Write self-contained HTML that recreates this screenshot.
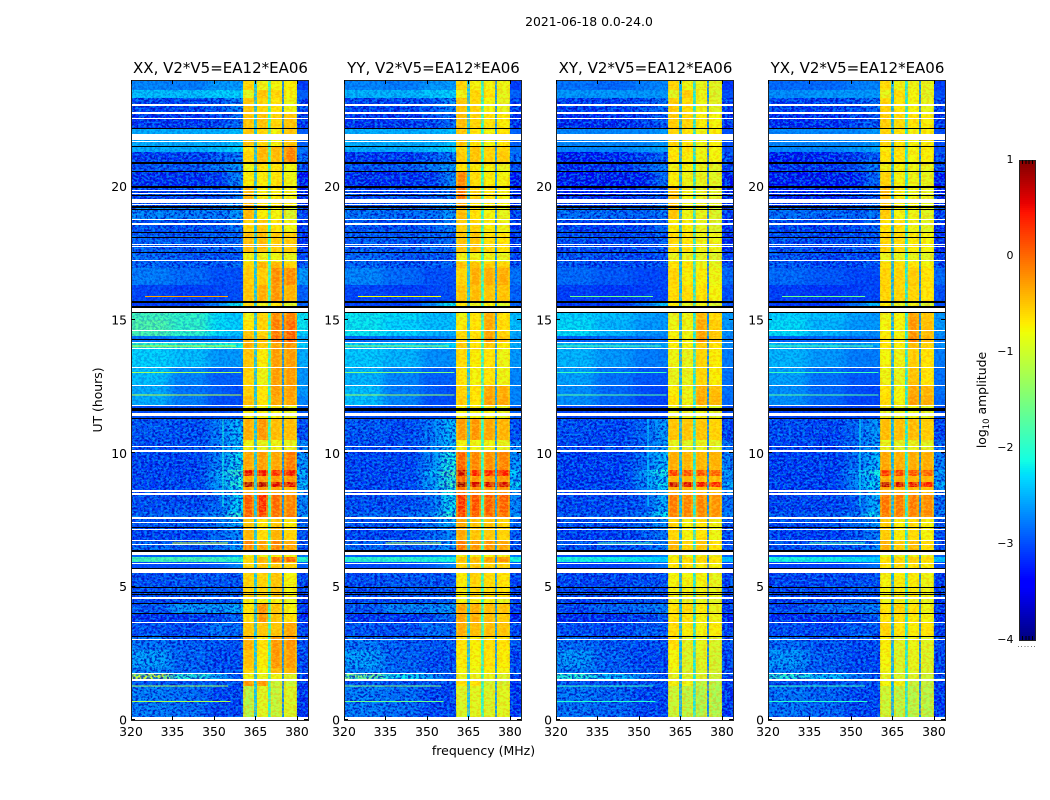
<!DOCTYPE html>
<html>
<head>
<meta charset="utf-8">
<title>2021-06-18 0.0-24.0</title>
<style>
html,body{margin:0;padding:0;background:#fff;}
svg{display:block;}
text{font-family:"DejaVu Sans","Liberation Sans",sans-serif;fill:#000;}
</style>
</head>
<body>
<svg id="figure" width="1050" height="800" viewBox="0 0 1050 800" xmlns="http://www.w3.org/2000/svg">
<defs>
<filter id="lowBlur" x="-0.2" y="0" width="1.4" height="1" color-interpolation-filters="sRGB">
<feGaussianBlur stdDeviation="5 0"/>
</filter>
<filter id="speckleDark" x="0" y="0" width="1" height="1" color-interpolation-filters="sRGB">
<feTurbulence type="fractalNoise" baseFrequency="0.36 0.5" numOctaves="2" seed="3"/>
<feColorMatrix type="matrix" values="0 0 0 0 0  0 0 0 0 0.05  0 0 0 0 0.72  10 0 0 0 -4.7"/>
</filter>
<filter id="speckleLight" x="0" y="0" width="1" height="1" color-interpolation-filters="sRGB">
<feTurbulence type="fractalNoise" baseFrequency="0.36 0.5" numOctaves="2" seed="11"/>
<feColorMatrix type="matrix" values="0 0 0 0 0  0 0 0 0 0.72  0 0 0 0 1  10 0 0 0 -4.9"/>
</filter>
<filter id="speckleBand" x="0" y="0" width="1" height="1" color-interpolation-filters="sRGB">
<feTurbulence type="fractalNoise" baseFrequency="0.3 0.45" numOctaves="2" seed="7"/>
<feColorMatrix type="matrix" values="0 0 0 0 1  0 0 0 0 0.92  0 0 0 0 0.2  10 0 0 0 -4.8"/>
</filter>
<filter id="speckleOrange" x="0" y="0" width="1" height="1" color-interpolation-filters="sRGB">
<feTurbulence type="fractalNoise" baseFrequency="0.3 0.45" numOctaves="2" seed="19"/>
<feColorMatrix type="matrix" values="0 0 0 0 1  0 0 0 0 0.5  0 0 0 0 0  10 0 0 0 -4.9"/>
</filter>
</defs>
<text x="589" y="26" text-anchor="middle" font-size="12.4">2021-06-18 0.0-24.0</text>
<g id="panels"></g>
<text x="483.5" y="755" text-anchor="middle" font-size="12.5">frequency (MHz)</text>
<text transform="translate(102,400) rotate(-90)" text-anchor="middle" font-size="12.4">UT (hours)</text>
<g id="colorbar"></g>
<text transform="translate(986,400) rotate(-90)" text-anchor="middle" font-size="12.4">log<tspan dy="3" font-size="8.5">10</tspan><tspan dy="-3"> amplitude</tspan></text>
</svg>
<script>
// Axis ticks
const freqTicks = [320, 335, 350, 365, 380];
const hourTicks = [0, 5, 10, 15, 20];
const colorTicks = [1, 0, -1, -2, -3, -4];
const panelNames = ['XX', 'YY', 'XY', 'YX'];
const panelTitles = ['XX, V2*V5=EA12*EA06', 'YY, V2*V5=EA12*EA06', 'XY, V2*V5=EA12*EA06', 'YX, V2*V5=EA12*EA06'];

// Time segment edges (UT hours), top to bottom
const rowEdges = [24.00,23.62,23.32,22.80,22.20,21.52,21.30,20.92,20.59,20.02,19.54,19.24,18.79,18.30,17.55,17.18,16.95,16.31,15.71,15.49,15.00,14.62,14.40,14.18,13.91,13.24,12.56,12.15,11.81,11.32,10.50,10.09,9.38,9.15,8.92,8.74,8.44,7.80,7.61,7.24,6.75,6.34,6.11,5.92,5.70,4.61,4.39,4.01,3.67,3.15,2.62,1.95,1.76,1.54,1.27,0.11];
// Frequency channel edges (MHz): 4 low-band blocks, 4 sub-bands with 3 gaps, upper edge block
const freqEdges = [320,334,348,355,360.5,364.5,365.5,369.5,370.5,374.5,375.5,380,384];
// Sub-band spans (MHz)
const subBands = [[360.5,364.5],[365.5,369.5],[370.5,374.5],[375.5,380]];

// log10 amplitude per segment: low1, low2, low3, low4, sub1, sub2, sub3, sub4, upper
const levelsXX = [
[-2.7,-2.75,-2.6,-2.6,-.6,-.85,-.8,-.75,-3.1],
[-2.4,-2.4,-2.3,-2.3,-.95,-.5,-.6,-.8,-2.9],
[-3.1,-3.1,-3,-2.7,-.5,-.6,-.7,-.85,-3.1],
[-3.2,-3.2,-3.1,-2.9,-.5,-.5,-.6,-.5,-3.2],
[-2.5,-2.5,-2.5,-2.4,-.5,-.6,-.8,-.5,-2.9],
[-2.5,-2.5,-2.4,-2.3,-.7,-.4,-.4,-.1,-2.8],
[-3.15,-3.15,-3,-2.8,-.6,-.4,-.45,-.1,-2.9],
[-3,-3,-2.8,-2.6,-.85,-.7,-.7,-.85,-3],
[-3.25,-3.25,-3.2,-2.7,-.75,-.75,-.7,-.85,-3.4],
[-3.1,-3.1,-3,-2.8,-.4,-.75,-.75,-.8,-3.3],
[-3,-3,-2.8,-2.6,-.4,-.7,-.7,-.75,-3.2],
[-2.7,-2.75,-2.8,-2.6,-.4,-.75,-.8,-1,-3.1],
[-3,-3.05,-3,-2.8,-.6,-.5,-.7,-.85,-3.2],
[-2.95,-3,-2.95,-2.9,-.45,-.45,-.55,-.55,-3.2],
[-2.9,-3,-3,-3,-.85,-.85,-.85,-.9,-3.1],
[-2.9,-3,-3,-2.9,-.6,-.4,-.4,-.6,-3],
[-2.75,-2.85,-3,-3,-.55,-.55,-.15,-.15,-2.6],
[-3.05,-3.1,-3.05,-3,-.5,-.35,-.2,-.4,-2.9],
[-3.1,-3.1,-2.7,-2.2,-.6,-.9,-.7,-1,-2.9],
[-1.85,-1.95,-2.25,-2.35,-.85,-.6,-.15,-.1,-2.2],
[-1.75,-1.95,-2.25,-2.3,-.7,-.6,-.05,.05,-2.2],
[-1.8,-1.95,-2.25,-2.4,-.5,-.6,-.05,.1,-2.3],
[-2.8,-2.7,-2.7,-2.6,-.4,-.5,.1,.15,-2.5],
[-2,-2.05,-2.1,-2.1,-.35,-.55,-.3,-.2,-2.3],
[-2.3,-2.4,-2.6,-2.6,-.5,-.75,-.25,-.25,-2.5],
[-2.4,-2.7,-2.9,-2.9,-.6,-.85,-.25,-.25,-2.6],
[-2.5,-2.8,-2.9,-3,-.55,-.7,-.25,-.25,-2.6],
[-2.5,-2.75,-3,-3,-.45,-.7,-.3,-.3,-2.7],
[-3,-3,-3,-3,-.8,-.8,-.8,-.9,-2.9],
[-3,-3.05,-2.8,-2.4,-.35,-.2,-.45,-.45,-3.05],
[-3.05,-3.05,-2.8,-2.4,-.85,-.9,-.85,-.9,-2.7],
[-3.1,-3.1,-2.75,-2.2,-.3,-.25,-.3,-.05,-2.6],
[-3.1,-3.1,-2.5,-1.9,.55,.5,.4,.5,-2.4],
[-3.1,-3.1,-2.6,-2.1,-.35,-.25,-.25,-.2,-2.6],
[-3.1,-3.05,-2.6,-2,.85,.8,.6,.6,-2.3],
[-3.1,-3.1,-2.7,-2.2,-.3,-.2,-.3,-.4,-2.5],
[-3.05,-3.05,-2.9,-2.25,.15,.4,.05,-.1,-2.7],
[-2.9,-2.9,-2.7,-2,.1,.2,0,-.05,-2.6],
[-3,-3,-2.8,-2.5,-.5,-.7,-.5,-.75,-2.9],
[-3.1,-3.1,-2.9,-2.7,-.4,-.65,-.4,-.6,-3],
[-2.9,-3,-2.9,-2.6,-.1,-.3,-.1,-.3,-3],
[-2.9,-2.9,-2.8,-2.6,-.85,-.85,-.8,-.85,-2.8],
[-1.85,-1.85,-1.9,-2,-.6,-.35,0,.05,-2],
[-3,-3,-2.9,-2.7,-.6,-.5,-.5,-.6,-2.9],
[-3.05,-3,-3,-3,-.6,-.6,-.5,-.8,-3.1],
[-3.1,-3.1,-3,-2.9,-.8,-.8,-.8,-.9,-3.2],
[-3,-2.6,-2.6,-2.5,-.7,-.15,-.5,-.8,-3.2],
[-3.2,-3.2,-3.1,-2.9,-.7,-.2,-.5,-.7,-3.3],
[-3,-3.05,-2.8,-2.9,-.5,-.5,-.5,-.3,-3.1],
[-2.8,-2.95,-3,-3,-.35,-.7,-.2,-.2,-3],
[-2.55,-2.9,-3.05,-3.05,-.45,-.75,-.2,-.25,-3.1],
[-2.7,-2.9,-3,-3,-.6,-.8,-.4,-.4,-3.1],
[-1,-2,-2.5,-3,-.85,-.9,-.85,-1,-3.1],
[-3,-3,-3,-3,-.2,-.2,-1.1,-1.1,-3.2],
[-2.75,-2.85,-3.1,-3.1,-1.25,-.95,-1.15,-1,-3.2]
];
const levelsYY = [
[-2.7,-2.75,-2.6,-2.6,-.6,-.8,-.8,-.85,-3.1],
[-2.45,-2.45,-2.35,-2.3,-.85,-.6,-.7,-.9,-2.9],
[-3.1,-3.1,-3,-2.7,-.5,-.6,-.8,-.9,-3.1],
[-3.2,-3.2,-3.1,-2.9,-.45,-.6,-.7,-.75,-3.2],
[-2.5,-2.5,-2.5,-2.4,-.5,-.7,-.8,-.7,-2.9],
[-2.5,-2.5,-2.4,-2.3,-.6,-.5,-.6,-.6,-2.8],
[-3.2,-3.2,-3,-2.8,-.55,-.5,-.6,-.55,-2.9],
[-3.05,-3,-2.8,-2.6,-.7,-.75,-.8,-.9,-3],
[-3.25,-3.25,-3.2,-2.7,-.1,-.65,-.75,-.8,-3.4],
[-3.1,-3.1,-3,-2.8,0,-.6,-.7,-.8,-3.3],
[-3,-3,-2.8,-2.6,-.3,-.7,-.75,-.8,-3.2],
[-2.8,-2.85,-2.85,-2.6,-.45,-.7,-.8,-.9,-3.1],
[-3,-3.05,-3,-2.8,-.55,-.6,-.75,-.85,-3.2],
[-2.95,-3,-2.95,-2.9,-.5,-.5,-.65,-.7,-3.2],
[-2.9,-3,-3,-3,-.85,-.85,-.85,-.9,-3.1],
[-2.9,-3,-3,-2.9,-.5,-.5,-.55,-.6,-3],
[-2.7,-2.85,-3,-3,-.6,-.35,-.35,-.35,-2.8],
[-3.05,-3.1,-3.05,-3,-.5,-.45,-.5,-.5,-2.9],
[-3.1,-3.1,-2.7,-2.2,-.7,-.9,-.8,-1,-2.9],
[-2.2,-2.25,-2.4,-2.4,-.85,-.7,-.35,-.7,-2.4],
[-2.2,-2.3,-2.4,-2.4,-.75,-.7,-.3,-.65,-2.4],
[-2.2,-2.3,-2.45,-2.5,-.65,-.7,-.3,-.6,-2.5],
[-2.85,-2.8,-2.8,-2.7,-.6,-.65,-.2,-.5,-2.6],
[-2.3,-2.3,-2.35,-2.3,-.55,-.7,-.55,-.75,-2.5],
[-2.35,-2.45,-2.65,-2.65,-.65,-.75,-.7,-.85,-2.6],
[-2.45,-2.7,-2.9,-2.9,-.7,-.8,-.7,-.85,-2.7],
[-2.4,-2.75,-2.9,-3,-.6,-.7,-.3,-.35,-2.7],
[-2.4,-2.7,-3,-3,-.55,-.7,-.25,-.3,-2.7],
[-3,-3,-3,-3,-.8,-.8,-.8,-.9,-2.9],
[-3,-3.05,-2.8,-2.4,-.25,-.2,-.3,-.4,-3.05],
[-3.05,-3.05,-2.8,-2.4,-.8,-.85,-.85,-.9,-2.7],
[-3.1,-3.1,-2.7,-2.1,.1,-.1,-.15,-.1,-2.6],
[-3.1,-3.1,-2.4,-1.8,.7,.45,.45,.45,-2.3],
[-3.1,-3.1,-2.6,-2,.1,-.2,-.2,-.2,-2.5],
[-3.1,-3.05,-2.5,-1.9,.9,.65,.65,.65,-2.2],
[-3.1,-3.1,-2.7,-2.1,0,-.15,-.2,-.2,-2.5],
[-3.05,-3.05,-2.9,-2.2,.4,.2,.15,.1,-2.7],
[-2.9,-2.9,-2.7,-2,.2,.1,.05,0,-2.6],
[-3,-3,-2.8,-2.5,-.3,-.5,-.5,-.6,-2.9],
[-3.1,-3.1,-2.9,-2.7,-.3,-.5,-.5,-.6,-3],
[-2.9,-3,-2.9,-2.6,-.05,-.2,-.2,-.3,-3],
[-2.9,-2.9,-2.8,-2.6,-.85,-.85,-.8,-.85,-2.8],
[-2,-2,-2.05,-2.1,-.5,-.45,-.3,-.2,-2.1],
[-3,-3,-2.9,-2.7,-.6,-.5,-.6,-.6,-2.9],
[-3.05,-3,-3,-3,-.75,-.6,-.65,-.7,-3.1],
[-3.1,-3.1,-3,-2.9,-.8,-.8,-.8,-.9,-3.2],
[-3,-2.7,-2.7,-2.6,-.3,-.35,-.45,-.5,-3.2],
[-3.2,-3.2,-3.1,-2.9,-.3,-.35,-.45,-.55,-3.3],
[-3,-3.05,-2.85,-2.9,-.35,-.45,-.45,-.5,-3.1],
[-2.8,-2.95,-3,-3,-.7,-.75,-.65,-.7,-3],
[-2.55,-2.9,-3.05,-3.05,-.75,-.8,-.7,-.75,-3.1],
[-2.7,-2.9,-3,-3,-.8,-.85,-.75,-.8,-3.1],
[-1.5,-2.2,-2.6,-3,-.9,-.9,-.9,-1,-3.1],
[-3,-3,-3,-3,-.7,-.7,-1.05,-1.05,-3.2],
[-2.75,-2.85,-3.1,-3.1,-1,-.95,-1,-.95,-3.2]
];
const levelsXY = [
[-2.8,-2.85,-2.75,-2.7,-.6,-.85,-.9,-.95,-3.15],
[-2.6,-2.6,-2.6,-2.6,-.95,-.55,-.85,-1,-3],
[-3.15,-3.15,-3.05,-2.85,-.55,-.65,-.85,-.95,-3.15],
[-3.25,-3.25,-3.15,-3,-.55,-.6,-.75,-.8,-3.25],
[-2.7,-2.7,-2.7,-2.6,-.6,-.7,-.85,-.75,-3],
[-2.7,-2.7,-2.6,-2.55,-.75,-.7,-.85,-.8,-3],
[-3.35,-3.3,-3.15,-2.95,-.7,-.75,-.85,-.8,-3.05],
[-3.25,-3.2,-3,-2.8,-.85,-.8,-.9,-.95,-3.1],
[-3.4,-3.4,-3.35,-2.9,-.75,-.85,-.9,-.95,-3.4],
[-3.3,-3.3,-3.2,-3,-.45,-.8,-.9,-.95,-3.3],
[-3.15,-3.15,-3,-2.8,-.5,-.8,-.85,-.95,-3.25],
[-2.85,-2.9,-2.95,-2.8,-.5,-.85,-.9,-1,-3.15],
[-3.1,-3.15,-3.1,-2.95,-.75,-.75,-.9,-1,-3.25],
[-3.05,-3.1,-3.05,-3,-.65,-.7,-.85,-.85,-3.25],
[-3,-3.1,-3.1,-3.05,-.9,-.9,-.95,-1,-3.15],
[-3,-3.1,-3.1,-3,-.7,-.7,-.85,-.9,-3.1],
[-2.85,-2.95,-3.05,-3.05,-.6,-.75,-.75,-.85,-2.85],
[-3.1,-3.15,-3.1,-3.05,-.65,-.65,-.7,-.8,-3],
[-3.15,-3.15,-2.8,-2.4,-.75,-.95,-.85,-1.05,-3],
[-2.3,-2.4,-2.55,-2.6,-.9,-.85,-.4,-.65,-2.6],
[-2.25,-2.45,-2.6,-2.6,-.85,-.85,-.3,-.55,-2.6],
[-2.25,-2.45,-2.6,-2.65,-.8,-.85,-.3,-.55,-2.65],
[-2.9,-2.85,-2.85,-2.8,-.75,-.8,-.2,-.5,-2.75],
[-2.4,-2.45,-2.55,-2.55,-.75,-.8,-.55,-.7,-2.65],
[-2.45,-2.6,-2.75,-2.75,-.85,-.9,-.6,-.75,-2.75],
[-2.55,-2.8,-2.95,-2.95,-.9,-.9,-.6,-.75,-2.8],
[-2.65,-2.85,-3,-3.05,-.75,-.85,-.35,-.45,-2.8],
[-2.65,-2.85,-3.05,-3.05,-.7,-.85,-.3,-.4,-2.85],
[-3.05,-3.05,-3.05,-3.05,-.9,-.9,-.85,-.95,-3],
[-3.05,-3.1,-2.9,-2.6,-.5,-.5,-.5,-.6,-3.1],
[-3.1,-3.1,-2.9,-2.6,-.9,-.95,-.9,-.95,-2.85],
[-3.15,-3.15,-2.85,-2.4,-.35,-.4,-.4,-.4,-2.75],
[-3.15,-3.15,-2.6,-2.1,.3,.2,.2,.1,-2.55],
[-3.15,-3.15,-2.7,-2.3,-.4,-.4,-.45,-.45,-2.7],
[-3.15,-3.1,-2.7,-2.2,.7,.6,.5,.4,-2.45],
[-3.15,-3.15,-2.8,-2.35,-.35,-.4,-.45,-.5,-2.65],
[-3.1,-3.1,-3,-2.45,-.05,-.1,-.1,-.2,-2.85],
[-3,-3,-2.8,-2.2,-.1,-.1,-.15,-.2,-2.75],
[-3.05,-3.05,-2.9,-2.65,-.6,-.8,-.7,-.85,-3],
[-3.15,-3.15,-3,-2.8,-.6,-.8,-.7,-.85,-3.05],
[-3,-3.05,-3,-2.75,-.4,-.6,-.5,-.7,-3.05],
[-3,-3,-2.9,-2.75,-.9,-.9,-.85,-.9,-2.9],
[-2.1,-2.15,-2.2,-2.3,-.75,-.65,-.6,-.7,-2.4],
[-3.05,-3.05,-2.95,-2.8,-.7,-.7,-.75,-.8,-3],
[-3.1,-3.1,-3.05,-3.05,-.8,-.8,-.8,-.9,-3.15],
[-3.15,-3.15,-3.05,-3,-.85,-.9,-.9,-.95,-3.2],
[-3.1,-2.9,-2.85,-2.75,-.7,-.65,-.75,-.9,-3.2],
[-3.25,-3.25,-3.15,-3,-.7,-.7,-.8,-.85,-3.3],
[-3.05,-3.1,-2.95,-3,-.65,-.75,-.8,-.75,-3.15],
[-2.85,-3,-3.05,-3.05,-.7,-.95,-.9,-1,-3.05],
[-2.6,-2.95,-3.1,-3.1,-.8,-1,-.95,-1.05,-3.1],
[-2.75,-2.95,-3.05,-3.05,-.85,-1,-1,-1.05,-3.1],
[-2,-2.4,-2.75,-3.05,-.95,-1,-1,-1.1,-3.1],
[-3.05,-3.05,-3.05,-3.05,-.8,-.85,-1.2,-1.25,-3.2],
[-2.8,-2.9,-3.1,-3.1,-1.1,-1.2,-1.3,-1.3,-3.2]
];
const levelsYX = [
[-2.85,-2.85,-2.75,-2.7,-.65,-.85,-.85,-.9,-3.1],
[-2.65,-2.6,-2.6,-2.6,-.9,-.65,-.8,-.95,-3],
[-3.15,-3.15,-3.05,-2.85,-.6,-.7,-.8,-.9,-3.1],
[-3.25,-3.25,-3.15,-3,-.55,-.65,-.7,-.75,-3.2],
[-2.7,-2.7,-2.7,-2.6,-.6,-.7,-.8,-.75,-3],
[-2.7,-2.7,-2.6,-2.55,-.75,-.65,-.8,-.75,-3],
[-3.35,-3.3,-3.15,-2.95,-.7,-.7,-.8,-.75,-3.05],
[-3.25,-3.2,-3,-2.8,-.85,-.8,-.85,-.9,-3.1],
[-3.4,-3.4,-3.35,-2.9,-.6,-.8,-.85,-.9,-3.4],
[-3.3,-3.3,-3.2,-3,-.45,-.75,-.85,-.9,-3.3],
[-3.15,-3.15,-3,-2.8,-.5,-.75,-.8,-.9,-3.25],
[-2.85,-2.9,-2.95,-2.8,-.55,-.8,-.85,-.95,-3.15],
[-3.1,-3.15,-3.1,-2.95,-.7,-.7,-.85,-.95,-3.25],
[-3.05,-3.1,-3.05,-3,-.6,-.65,-.75,-.8,-3.25],
[-3,-3.1,-3.1,-3.05,-.9,-.9,-.9,-.95,-3.15],
[-3,-3.1,-3.1,-3,-.65,-.65,-.7,-.8,-3.1],
[-2.85,-2.95,-3.05,-3.05,-.6,-.6,-.55,-.7,-2.85],
[-3.1,-3.15,-3.1,-3.05,-.6,-.6,-.6,-.7,-3],
[-3.15,-3.15,-2.8,-2.4,-.75,-.95,-.85,-1.05,-3],
[-2.3,-2.4,-2.55,-2.6,-.85,-.8,-.25,-.5,-2.6],
[-2.25,-2.45,-2.6,-2.6,-.8,-.8,-.2,-.45,-2.6],
[-2.25,-2.45,-2.6,-2.65,-.75,-.8,-.2,-.45,-2.65],
[-2.9,-2.85,-2.85,-2.8,-.7,-.75,-.1,-.4,-2.75],
[-2.4,-2.45,-2.55,-2.55,-.7,-.75,-.45,-.6,-2.65],
[-2.45,-2.6,-2.75,-2.75,-.8,-.85,-.55,-.7,-2.75],
[-2.55,-2.8,-2.95,-2.95,-.85,-.9,-.5,-.7,-2.8],
[-2.65,-2.85,-3,-3.05,-.7,-.8,-.3,-.4,-2.8],
[-2.65,-2.85,-3.05,-3.05,-.65,-.8,-.25,-.35,-2.85],
[-3.05,-3.05,-3.05,-3.05,-.9,-.9,-.85,-.95,-3],
[-3.05,-3.1,-2.9,-2.6,-.45,-.45,-.45,-.55,-3.1],
[-3.1,-3.1,-2.9,-2.6,-.9,-.95,-.9,-.95,-2.85],
[-3.15,-3.15,-2.85,-2.4,-.3,-.35,-.35,-.35,-2.75],
[-3.15,-3.15,-2.6,-2.1,.35,.25,.2,.1,-2.55],
[-3.15,-3.15,-2.7,-2.3,-.35,-.35,-.4,-.4,-2.7],
[-3.15,-3.1,-2.7,-2.2,.75,.65,.55,.45,-2.45],
[-3.15,-3.15,-2.8,-2.35,-.3,-.35,-.4,-.45,-2.65],
[-3.1,-3.1,-3,-2.45,0,-.05,-.05,-.15,-2.85],
[-3,-3,-2.8,-2.2,-.05,-.05,-.1,-.15,-2.75],
[-3.05,-3.05,-2.9,-2.65,-.55,-.75,-.65,-.8,-3],
[-3.15,-3.15,-3,-2.8,-.55,-.75,-.65,-.8,-3.05],
[-3,-3.05,-3,-2.75,-.35,-.55,-.45,-.65,-3.05],
[-3,-3,-2.9,-2.75,-.9,-.9,-.85,-.9,-2.9],
[-2.1,-2.15,-2.2,-2.3,-.7,-.6,-.55,-.65,-2.4],
[-3.05,-3.05,-2.95,-2.8,-.7,-.65,-.7,-.75,-3],
[-3.1,-3.1,-3.05,-3.05,-.8,-.75,-.75,-.85,-3.15],
[-3.15,-3.15,-3.05,-3,-.85,-.85,-.85,-.9,-3.2],
[-3.1,-2.9,-2.85,-2.75,-.7,-.6,-.7,-.85,-3.2],
[-3.25,-3.25,-3.15,-3,-.7,-.65,-.75,-.8,-3.3],
[-3.05,-3.1,-2.95,-3,-.6,-.7,-.75,-.7,-3.15],
[-2.85,-3,-3.05,-3.05,-.75,-.95,-.85,-.95,-3.05],
[-2.6,-2.95,-3.1,-3.1,-.8,-1,-.9,-1,-3.1],
[-2.75,-2.95,-3.05,-3.05,-.85,-1,-.95,-1,-3.1],
[-2,-2.4,-2.75,-3.05,-.95,-1,-1,-1.1,-3.1],
[-3.05,-3.05,-3.05,-3.05,-.8,-.85,-1.15,-1.2,-3.2],
[-2.8,-2.9,-3.1,-3.1,-1.1,-1.2,-1.25,-1.25,-3.2]
];
// Level of the three gaps between sub-bands, per panel
const gapXX = [-2.4, -2.1, -2.7];
const gapYY = [-2.4, -2.1, -2.6];
const gapXY = [-2.5, -2.2, -2.7];
const gapYX = [-2.5, -2.2, -2.7];

// Flagged (blanked) rows as [top hour, bottom hour]
const flagWhite = [[23.10,23.04],[22.80,22.74],[22.575,22.52],[21.975,21.75],[21.71,21.67],[19.875,19.84],[19.76,19.72],[19.54,19.375],[19.35,19.31],[18.79,18.75],[18.64,18.56],[17.85,17.8],[17.775,17.72],[17.25,17.2],[15.49,15.3],[14.625,14.58],[14.175,14.13],[13.95,13.91],[13.24,13.2],[12.56,12.52],[11.81,11.77],[11.51,11.4],[10.275,10.23],[10.125,10.05],[8.625,8.55],[8.51,8.44],[7.61,7.55],[7.425,7.38],[7.16,7.13],[6.75,6.7],[6.6,6.56],[6.34,6.19],[5.89,5.85],[5.66,5.5],[4.61,4.55],[3.675,3.64],[3.04,3.0],[1.76,1.72],[1.54,1.47],[0.11,0]];
const flagBlack = [[22.2,22.16],[21.525,21.48],[20.925,20.85],[20.59,20.55],[20.03,19.95],[19.69,19.65],[19.275,19.2],[19.16,19.13],[18.3,18.26],[18.11,18.07],[17.55,17.5],[15.71,15.64],[15.525,15.45],[15.3,15.26],[14.29,14.25],[11.7,11.6],[11.325,11.28],[7.24,7.2],[6.375,6.3],[5.7,5.66],[4.99,4.95],[4.8,4.76],[4.72,4.68],[4.39,4.35],[4.01,3.97],[3.15,3.11]];
// Interference rows: hour, start MHz, end MHz, level in each panel
const rfiRows = [
[15.9,325,355,[-.3,-.8,-1.6,-1.6]],
[14.05,320,358,[-1,-1.3,-1.7,-1.7]],
[13.05,320,360,[-1.3,-1.5,-1.9,-1.9]],
[12.2,320,360,[-1.1,-1.3,-1.7,-1.7]],
[10.1,325,360,[-.6,-.9,-1.8,-1.8]],
[6.65,335,355,[-1,-1.2,-1.8,-1.8]],
[1.3,320,355,[-1.3,-1.5,-1.9,-1.9]],
[.72,320,356,[-1.2,-1.6,-2,-2]]
];
// Narrow-band vertical line: MHz, from hour, to hour, level in each panel
const rfiColumns = [[353,8,11.3,[-2.1,-2.5,-2.3,-2.2]]];
// Time spans with their pixel-noise strength: top hour, bottom hour, strength
const noiseSpans = [[24,23.32,.35],[23.32,22.2,1],[22.2,21.3,.3],[21.3,16.95,1],[16.95,15.5,.45],[15.5,11.3,.3],[11.3,6.3,1],[6.3,5.7,.2],[5.7,0,1]];

const levelsByPanel = [levelsXX, levelsYY, levelsXY, levelsYX];
const gapsByPanel = [gapXX, gapYY, gapXY, gapYX];

const NS = 'http://www.w3.org/2000/svg';
const axisTop = 80, axisBottom = 720, axisWidth = 177;
const panelLeft = [131, 344, 556, 768];
const yOf = h => axisBottom - (h / 24) * (axisBottom - axisTop);
const xOf = (left, f) => left + (f - 320) / 64 * axisWidth;

const jetR = [[0,0],[.35,0],[.66,1],[.89,1],[1,.5]];
const jetG = [[0,0],[.125,0],[.375,1],[.64,1],[.91,0],[1,0]];
const jetB = [[0,.5],[.11,1],[.34,1],[.65,0],[1,0]];
function ramp(stops, t) {
  for (let i = 1; i < stops.length; i++) {
    if (t <= stops[i][0]) {
      const a = stops[i - 1], b = stops[i];
      return a[1] + (b[1] - a[1]) * (t - a[0]) / (b[0] - a[0]);
    }
  }
  return stops[stops.length - 1][1];
}
function jet(v) {
  const t = Math.max(0, Math.min(1, (v + 4) / 5));
  const c = s => Math.round(ramp(s, t) * 255);
  return 'rgb(' + c(jetR) + ',' + c(jetG) + ',' + c(jetB) + ')';
}
function box(parent, x, y, w, h, fill) {
  const r = document.createElementNS(NS, 'rect');
  r.setAttribute('x', x);
  r.setAttribute('y', y);
  r.setAttribute('width', w);
  r.setAttribute('height', h);
  r.setAttribute('fill', fill);
  r.setAttribute('shape-rendering', 'crispEdges');
  parent.appendChild(r);
  return r;
}
function line(parent, x1, y1, x2, y2, color) {
  const l = document.createElementNS(NS, 'line');
  l.setAttribute('x1', x1);
  l.setAttribute('y1', y1);
  l.setAttribute('x2', x2);
  l.setAttribute('y2', y2);
  l.setAttribute('stroke', color);
  l.setAttribute('stroke-width', 1);
  l.setAttribute('shape-rendering', 'crispEdges');
  parent.appendChild(l);
  return l;
}
function label(parent, x, y, str, anchor, size) {
  const t = document.createElementNS(NS, 'text');
  t.setAttribute('x', x);
  t.setAttribute('y', y);
  t.setAttribute('text-anchor', anchor);
  t.setAttribute('font-size', size);
  t.textContent = str;
  parent.appendChild(t);
  return t;
}

const svgRoot = document.getElementById('figure');
const defsRoot = svgRoot.querySelector('defs');
const panelsRoot = document.getElementById('panels');
panelNames.forEach(function (name, p) {
  const left = panelLeft[p];
  const levels = levelsByPanel[p];
  const gaps = gapsByPanel[p];
  const lowRight = xOf(left, 360.5), upLeft = xOf(left, 380);
  const g = document.createElementNS(NS, 'g');
  
  
  panelsRoot.appendChild(g);

  // Low band is blurred along frequency and clipped to the axes
  const clip = document.createElementNS(NS, 'clipPath');
  clip.setAttribute('id', 'lowClip' + p);
  const clipBox = document.createElementNS(NS, 'rect');
  clipBox.setAttribute('x', left);
  clipBox.setAttribute('y', axisTop);
  clipBox.setAttribute('width', lowRight - left);
  clipBox.setAttribute('height', axisBottom - axisTop);
  clip.appendChild(clipBox);
  defsRoot.appendChild(clip);
  const lowClip = document.createElementNS(NS, 'g');
  lowClip.setAttribute('clip-path', 'url(#lowClip' + p + ')');
  
  
  g.appendChild(lowClip);
  const lowG = document.createElementNS(NS, 'g');
  lowG.setAttribute('filter', 'url(#lowBlur)');
  
  
  lowClip.appendChild(lowG);

  levels.forEach(function (row, r) {
    const cells = [row[0], row[1], row[2], row[3], row[4], gaps[0], row[5], gaps[1], row[6], gaps[2], row[7], row[8]];
    cells.forEach(function (v, c) {
      let x0 = Math.round(xOf(left, freqEdges[c]));
      let x1 = Math.round(xOf(left, freqEdges[c + 1]));
      if (c === 0) x0 -= 24;
      if (c === 3) x1 += 24;
      const y0 = Math.round(yOf(rowEdges[r]));
      const y1 = Math.round(yOf(rowEdges[r + 1]));
      const cell = box(c < 4 ? lowG : g, x0, y0, x1 - x0, y1 - y0, jet(v));
      
      
    });
  });

  noiseSpans.forEach(function (span) {
    const y0 = yOf(span[0]), y1 = yOf(span[1]);
    const a1 = box(g, left, y0, lowRight - left, y1 - y0, '#000');
    a1.setAttribute('filter', 'url(#speckleDark)');
    a1.setAttribute('opacity', 0.8 * span[2]);
    
    
    const a2 = box(g, left, y0, lowRight - left, y1 - y0, '#000');
    a2.setAttribute('filter', 'url(#speckleLight)');
    a2.setAttribute('opacity', 0.55 * span[2]);
    
    
    const b1 = box(g, upLeft, y0, axisWidth + left - upLeft, y1 - y0, '#000');
    b1.setAttribute('filter', 'url(#speckleDark)');
    b1.setAttribute('opacity', 0.8 * span[2]);
    
    
    const b2 = box(g, upLeft, y0, axisWidth + left - upLeft, y1 - y0, '#000');
    b2.setAttribute('filter', 'url(#speckleLight)');
    b2.setAttribute('opacity', 0.55 * span[2]);
    
    
  });
  subBands.forEach(function (sb) {
    const x0 = xOf(left, sb[0]), x1 = xOf(left, sb[1]);
    const e1 = box(g, x0, axisTop, 2, axisBottom - axisTop, '#e8f000');
    e1.setAttribute('opacity', 0.4);
    
    
    const e2 = box(g, x1 - 2, axisTop, 2, axisBottom - axisTop, '#e8f000');
    e2.setAttribute('opacity', 0.4);
    
    
  });
  const band = box(g, lowRight, axisTop, upLeft - lowRight, axisBottom - axisTop, '#000');
  band.setAttribute('filter', 'url(#speckleBand)');
  band.setAttribute('opacity', 0.32);
  
  
  const bandOrange = box(g, lowRight, axisTop, upLeft - lowRight, axisBottom - axisTop, '#000');
  bandOrange.setAttribute('filter', 'url(#speckleOrange)');
  bandOrange.setAttribute('opacity', 0.26);
  
  

  rfiRows.forEach(function (item) {
    const x0 = xOf(left, item[1]), x1 = xOf(left, item[2]);
    const rfi = box(g, x0, yOf(item[0]), x1 - x0, 1, jet(item[3][p]));
    
    
  });
  rfiColumns.forEach(function (item) {
    const y0 = yOf(item[2]), y1 = yOf(item[1]);
    const rfi = box(g, xOf(left, item[0]), y0, 1, y1 - y0, jet(item[3][p]));
    
    
  });
  flagWhite.forEach(function (f) {
    const y0 = Math.round(yOf(f[0]));
    const fr = box(g, left, y0, axisWidth, Math.max(1, Math.round(yOf(f[1])) - y0), '#ffffff');
    
    
  });
  flagBlack.forEach(function (f) {
    const y0 = Math.round(yOf(f[0]));
    const fr = box(g, left, y0, axisWidth, Math.max(1, Math.round(yOf(f[1])) - y0), '#000000');
    
    
  });

  const frame = document.createElementNS(NS, 'rect');
  frame.setAttribute('x', left + 0.5);
  frame.setAttribute('y', axisTop + 0.5);
  frame.setAttribute('width', axisWidth);
  frame.setAttribute('height', axisBottom - axisTop);
  frame.setAttribute('fill', 'none');
  frame.setAttribute('stroke', '#222');
  frame.setAttribute('shape-rendering', 'crispEdges');
  
  
  g.appendChild(frame);

  freqTicks.forEach(function (f) {
    const x = Math.round(xOf(left, f)) + 0.5;
    const t1 = line(g, x, axisBottom, x, axisBottom - 4, '#000');
    
    
    const t2 = line(g, x, axisTop, x, axisTop + 4, '#000');
    
    
    const tl = label(g, xOf(left, f), 736, String(f), 'middle', 12.4);
    
    
  });
  hourTicks.forEach(function (h) {
    const y = Math.round(yOf(h)) - 0.5;
    const t1 = line(g, left, y, left + 4, y, '#000');
    
    
    const t2 = line(g, left + axisWidth, y, left + axisWidth - 4, y, '#000');
    
    
    const tl = label(g, left - 4, yOf(h) + 4.5, String(h), 'end', 12.4);
    
    
  });
  const title = label(g, left + axisWidth / 2 + 1, 73, panelTitles[p], 'middle', 15);
  
  
});

// Colorbar
const cbRoot = document.getElementById('colorbar');
const cbLeft = 1019, cbWidth = 16, cbTop = 160, cbHeight = 480;
const cbY = v => cbTop + (1 - v) / 5 * cbHeight;
for (let i = 0; i < cbHeight / 2; i++) {
  const v = 1 - (i + 0.5) * 2 * 5 / cbHeight;
  const s = box(cbRoot, cbLeft, cbTop + i * 2, cbWidth, 2, jet(v));
  
  
}
const cbFrame = document.createElementNS(NS, 'rect');
cbFrame.setAttribute('x', cbLeft + 0.5);
cbFrame.setAttribute('y', cbTop + 0.5);
cbFrame.setAttribute('width', cbWidth);
cbFrame.setAttribute('height', cbHeight);
cbFrame.setAttribute('fill', 'none');
cbFrame.setAttribute('stroke', '#222');
cbFrame.setAttribute('shape-rendering', 'crispEdges');


cbRoot.appendChild(cbFrame);
colorTicks.forEach(function (v) {
  const tl = label(cbRoot, 1013.5, cbY(v) + 3, (v < 0 ? '\u2212' + (-v) : String(v)), 'end', 11);
  
  
});
for (let i = 1; i <= 4; i++) {
  const x = cbLeft + i * 3.2 + 0.5;
  const up = line(cbRoot, x, cbTop, x, cbTop + 4, '#000');
  
  
  const dn = line(cbRoot, x, cbTop + cbHeight, x, cbTop + cbHeight - 4, '#000');
  
  
}
for (let i = 0; i < 6; i++) {
  const d = box(cbRoot, 1018 + i * 3.2, 646, 1, 1, '#777');
  
  
}
</script>
</body>
</html>
